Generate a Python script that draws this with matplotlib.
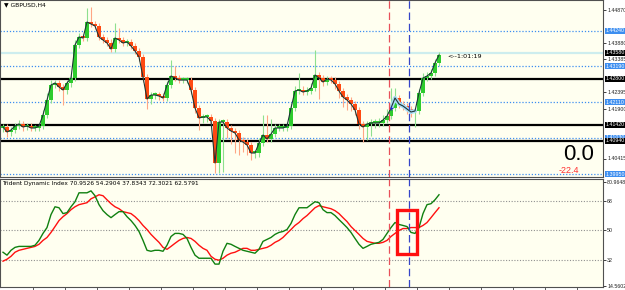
import numpy as np
import matplotlib.pyplot as plt
from matplotlib.patches import Rectangle

plt.rcParams['font.family'] = ['DejaVu Sans']

# --- Data (GBPUSD H4 + Trident Dynamic Index) ---
closes = [1.4136, 1.4121, 1.4127, 1.4139, 1.4145, 1.4136, 1.4139, 1.4133, 1.4133, 1.4139,
          1.4172, 1.4217, 1.4262, 1.4268, 1.4256, 1.4247, 1.4268, 1.4283, 1.4382, 1.4406,
          1.4403, 1.4451, 1.4445, 1.4439, 1.4406, 1.4397, 1.4388, 1.4370, 1.4403, 1.4397,
          1.4388, 1.4391, 1.4379, 1.4364, 1.4346, 1.4286, 1.4220, 1.4232, 1.4232, 1.4229,
          1.4223, 1.4262, 1.4289, 1.4283, 1.4277, 1.4277, 1.4277, 1.4247, 1.4193, 1.4163,
          1.4166, 1.4166, 1.4154, 1.4028, 1.4151, 1.4151, 1.4133, 1.4124, 1.4118, 1.4097,
          1.4091, 1.4082, 1.4058, 1.4058, 1.4088, 1.4112, 1.4100, 1.4115, 1.4133, 1.4133,
          1.4133, 1.4139, 1.4193, 1.4244, 1.4247, 1.4241, 1.4244, 1.4253, 1.4292, 1.4283,
          1.4271, 1.4280, 1.4277, 1.4265, 1.4244, 1.4226, 1.4217, 1.4205, 1.4187, 1.4145,
          1.4136, 1.4145, 1.4148, 1.4148, 1.4148, 1.4157, 1.4169, 1.4193, 1.4223, 1.4205,
          1.4199, 1.4190, 1.4181, 1.4184, 1.4238, 1.4283, 1.4289, 1.4298, 1.4328, 1.4352]
first_open = 1.4133

wick_up = [.0009, .0009, .0009, .0009, .0012, .0009, .0009, .0009, .0009, .0009,
           .0015, .0020, .0015, .0009, .0009, .0009, .0009, .0009, .0015, .0012,
           .0009, .0042, .0045, .0009, .0009, .0009, .0009, .0012, .0045, .0030,
           .0009, .0009, .0009, .0009, .0009, .0009, .0009, .0009, .0009, .0009,
           .0009, .0012, .0048, .0030, .0009, .0009, .0009, .0009, .0009, .0009,
           .0009, .0009, .0009, .0009, .0009, .0009, .0009, .0009, .0009, .0009,
           .0009, .0009, .0009, .0009, .0015, .0060, .0060, .0045, .0012, .0012,
           .0012, .0012, .0015, .0015, .0050, .0012, .0012, .0015, .0075, .0009,
           .0009, .0009, .0009, .0009, .0009, .0009, .0009, .0009, .0009, .0009,
           .0009, .0009, .0012, .0012, .0015, .0015, .0020, .0060, .0030, .0009,
           .0009, .0009, .0009, .0009, .0012, .0015, .0012, .0012, .0012, .0009]
wick_dn = [.0012, .0015, .0012, .0009, .0009, .0012, .0009, .0009, .0009, .0009,
           .0009, .0009, .0009, .0009, .0012, .0045, .0012, .0012, .0009, .0009,
           .0009, .0009, .0009, .0009, .0009, .0009, .0009, .0009, .0009, .0009,
           .0009, .0009, .0009, .0009, .0012, .0015, .0030, .0015, .0012, .0012,
           .0009, .0009, .0009, .0009, .0009, .0009, .0009, .0012, .0015, .0036,
           .0015, .0015, .0015, .0030, .0030, .0150, .0030, .0040, .0060, .0045,
           .0030, .0030, .0020, .0015, .0012, .0009, .0009, .0009, .0009, .0009,
           .0009, .0009, .0009, .0009, .0009, .0009, .0009, .0009, .0009, .0063,
           .0012, .0009, .0009, .0015, .0020, .0030, .0030, .0020, .0015, .0015,
           .0045, .0040, .0035, .0015, .0012, .0009, .0009, .0009, .0009, .0012,
           .0012, .0015, .0015, .0045, .0009, .0009, .0009, .0009, .0009, .0009]

tdi_price = [36.6, 34.8, 37.8, 39.6, 40.2, 40.2, 40.2, 40.2, 40.9, 43.9,
             48.2, 51.8, 59.8, 64.6, 64.0, 60.4, 61.0, 64.6, 67.7, 73.2,
             73.2, 73.2, 74.4, 71.4, 65.9, 62.2, 59.8, 57.9, 59.8, 61.6,
             61.6, 58.5, 56.1, 53.1, 49.4, 43.9, 37.8, 37.2, 37.8, 37.8,
             37.2, 40.9, 46.3, 48.2, 48.2, 47.6, 45.1, 39.6, 34.8, 32.9,
             32.9, 32.9, 32.9, 29.3, 29.3, 37.2, 42.1, 41.5, 40.2, 39.0,
             37.8, 37.2, 36.6, 36.0, 38.4, 43.3, 44.5, 45.7, 47.6, 48.8,
             49.4, 50.6, 54.3, 59.8, 64.0, 64.0, 64.0, 65.9, 67.7, 67.1,
             62.8, 61.0, 61.0, 59.2, 56.7, 54.3, 51.8, 48.8, 45.1, 41.5,
             39.0, 40.2, 41.5, 42.1, 42.7, 44.5, 48.2, 51.8, 54.9, 53.7,
             53.1, 52.4, 48.8, 48.2, 51.8, 60.4, 65.9, 66.5, 68.9, 72.0]
tdi_signal = [31.1, 32.3, 34.1, 36.6, 37.8, 38.4, 39.0, 39.6, 40.2, 41.5,
              43.9, 45.7, 48.8, 52.4, 56.1, 58.5, 60.4, 62.8, 64.6, 65.9,
              66.5, 67.1, 69.5, 70.7, 72.0, 71.4, 68.9, 66.5, 64.6, 63.4,
              61.6, 61.0, 60.4, 58.5, 56.1, 53.1, 50.6, 47.6, 45.1, 42.7,
              39.6, 38.4, 40.2, 42.1, 43.9, 45.1, 45.7, 45.1, 43.3, 40.9,
              39.0, 37.8, 34.1, 32.3, 31.7, 32.9, 34.8, 36.0, 36.6, 37.8,
              39.0, 39.0, 37.8, 37.8, 38.4, 39.0, 39.6, 40.9, 42.7, 43.9,
              45.7, 48.2, 50.6, 53.1, 54.9, 57.3, 59.2, 61.6, 64.0, 65.3,
              64.6, 64.0, 63.4, 62.2, 60.4, 57.9, 55.5, 52.4, 50.0, 47.6,
              45.1, 43.3, 42.7, 42.1, 42.1, 42.7, 43.9, 46.3, 48.2, 50.0,
              51.2, 51.2, 51.8, 51.8, 51.8, 53.1, 54.9, 57.9, 61.0, 64.0]

pivot_levels = [1.4424, 1.4319, 1.4211, 1.4103, 1.3995]
sr_levels = [1.4280, 1.4142, 1.4094]
bid_price = 1.4358
price_ticks = [1.4487, 1.4388, 1.43385, 1.42395, 1.4190, 1.40415]
price_tick_labels = ['1.44870', '1.43880', '1.43385', '1.42395', '1.41900', '1.40415']
tdi_levels = [68, 50, 32]
tdi_top_label, tdi_bottom_label = '80.9648', '14.5602'
tdi_title = 'Trident Dynamic Index 70.9526 54.2904 37.8343 72.3021 62.5791'
timer_text = '<--1:01:19'
spread_big, spread_small = '0.0', '-22.4'

# annotation positions (candle index / indicator value)
vline_red, vline_blue = 96.5, 101.5
box_x0, box_x1, box_v0, box_v1 = 98.5, 103.5, 35.4, 62.8

BG = '#FFFFF0'
SCALE_FONT = 'Liberation Sans'
W, H = 625, 290
fig = plt.figure(figsize=(W / 100, H / 100), dpi=100, facecolor='white')
ax = fig.add_axes([0, 1 - 177 / H, 603 / W, 177 / H], facecolor=BG)
ax2 = fig.add_axes([0, 3 / H, 603 / W, 108 / H], facecolor=BG)

x = np.arange(len(closes))
c = np.array(closes)
o = np.concatenate([[first_open], c[:-1]])
up = c >= o
top = np.maximum(o, c)
bot = np.minimum(o, c)
hi = top + np.array(wick_up)
lo = bot - np.array(wick_dn)
body = np.maximum(top - bot, 0.0007)

# --- main price panel ---
for lv in pivot_levels:
    ax.axhline(lv, color='#3D8EF0', lw=0.9, ls=(0, (1, 1.5)), zorder=1)
ax.axhline(bid_price, color='#CDEDEE', lw=1.6, zorder=1)
for lv in sr_levels:
    ax.axhline(lv, color='black', lw=1.6, zorder=2)

ax.vlines(x[up], lo[up], hi[up], color='#8EE08E', lw=0.8, zorder=3)
ax.vlines(x[~up], lo[~up], hi[~up], color='#FFA684', lw=0.8, zorder=3)
ax.bar(x[up], body[up], bottom=bot[up], width=0.78, color='#2ECC2E', lw=0, zorder=4)
ax.bar(x[~up], body[~up], bottom=bot[~up], width=0.78, color='#FF4A12', lw=0, zorder=4)
ax.plot(x[97:104], c[97:104], color='#A9DCF5', lw=3, zorder=4.5, solid_capstyle='round')
ax.plot(x, c, color='#1C3535', lw=0.8, zorder=5)
ax.plot(x[97], c[97], marker='+', color='#2030D0', ms=3, mew=0.8, zorder=6)

for a in (ax, ax2):
    a.axvline(vline_red, color='#E8505A', lw=0.9, ls=(0, (6, 3)), zorder=6)
    a.axvline(vline_blue, color='#3545C8', lw=0.9, ls=(0, (6, 3)), zorder=6)
    a.set_xlim(-0.75, 150)
    for s in a.spines.values():
        s.set_color('#505050')
        s.set_linewidth(0.8)

ax.set_ylim(1.3986, 1.4517)
ax.yaxis.tick_right()
ax.set_yticks(price_ticks)
ax.set_yticklabels(price_tick_labels, family=SCALE_FONT)
ax.tick_params(axis='y', length=2, width=0.6, pad=1.0, labelsize=3.8, colors='#202020')
ax.set_xticks([])

lab_kw = dict(transform=ax.get_yaxis_transform(), fontsize=3.8, va='center', ha='left',
              color='white', zorder=10, clip_on=False, family=SCALE_FONT)
for lv in pivot_levels:
    ax.text(1.0045, lv, f'{lv:.5f}', bbox=dict(boxstyle='square,pad=0.1', fc='#3D8EF0', ec='none'), **lab_kw)
for lv in sr_levels:
    ax.text(1.0045, lv, f'{lv:.5f}', bbox=dict(boxstyle='square,pad=0.1', fc='black', ec='none'), **lab_kw)
ax.text(1.0045, bid_price, f'{bid_price:.5f}', bbox=dict(boxstyle='square,pad=0.1', fc='black', ec='none'), **lab_kw)

ax.text(0.006, 0.972, '\u25bc GBPUSD,H4', transform=ax.transAxes, fontsize=4.3, va='center', ha='left')
ax.text(x[-1] + 2, bid_price - 0.0010, timer_text, fontsize=4.6, va='center', ha='left')
ax.text(0.960, 0.125, spread_big, transform=ax.transAxes, fontsize=16, ha='center', va='center',
        family='Liberation Sans')
ax.text(0.944, 0.035, spread_small, transform=ax.transAxes, fontsize=6.5, ha='center', va='center',
        color='#FF3030', family='Liberation Sans')

# --- TDI panel ---
for lv in tdi_levels:
    ax2.axhline(lv, color='#909090', lw=0.8, ls=(0, (1, 1.5)), zorder=1)
ax2.plot(x, tdi_signal, color='#FF1010', lw=1.0, zorder=3)
ax2.plot(x, tdi_price, color='#108010', lw=1.0, zorder=4)
ax2.add_patch(Rectangle((box_x0, box_v0), box_x1 - box_x0, box_v1 - box_v0,
                        fill=False, ec='#FF1010', lw=2.4, zorder=7))
ax2.set_ylim(15.2, 81.7)
ax2.yaxis.tick_right()
ax2.set_yticks([79.6] + tdi_levels + [15.8])
ax2.set_yticklabels([tdi_top_label] + [str(v) for v in tdi_levels] + [tdi_bottom_label], family=SCALE_FONT)
ax2.tick_params(axis='y', length=2, width=0.6, pad=1.0, labelsize=3.8, colors='#202020')
ax2.set_xticks(np.arange(7.5, 150, 8))
ax2.tick_params(axis='x', length=2, width=0.6, labelbottom=False, colors='#404040')
ax2.text(0.004, 0.955, tdi_title, transform=ax2.transAxes, fontsize=4.2, va='center', ha='left')

fig.savefig('out.png', dpi=100, facecolor='white')
